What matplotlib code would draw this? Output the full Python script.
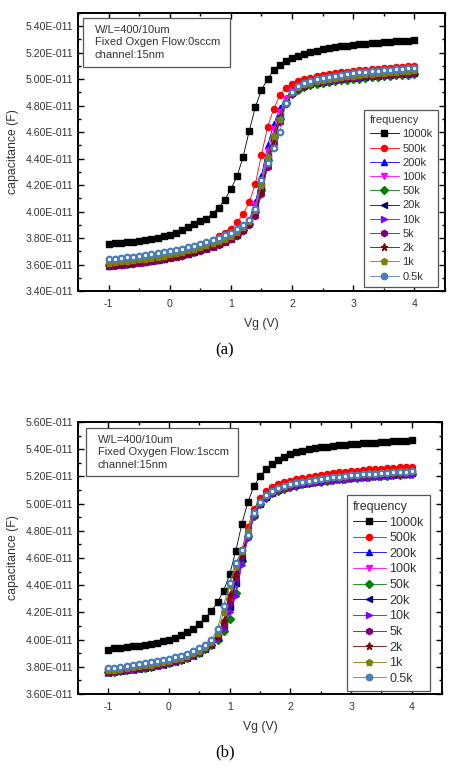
import numpy as np
import matplotlib
matplotlib.use("Agg")
import matplotlib.pyplot as plt
from matplotlib.ticker import MultipleLocator, FixedLocator, FuncFormatter
from matplotlib.patches import Rectangle

# ---------------- data (capacitance in units of 1e-11 F) ----------------
SCALE = 1e-11
vg = np.round(np.arange(-1.0, 4.0001, 0.1), 1)   # gate-voltage sweep, 0.1 V step

labels = ["1000k", "500k", "200k", "100k", "50k", "20k", "10k", "5k", "2k", "1k", "0.5k"]
x_ticks = [-1, 0, 1, 2, 3, 4]
y_ticks_a = [3.40, 3.60, 3.80, 4.00, 4.20, 4.40, 4.60, 4.80, 5.00, 5.20, 5.40]
y_ticks_b = [3.60, 3.80, 4.00, 4.20, 4.40, 4.60, 4.80, 5.00, 5.20, 5.40, 5.60]

# ----- panel (a): oxygen flow 0 sccm -----
a_1000k = [3.755, 3.760, 3.765, 3.768, 3.772, 3.778, 3.785, 3.792, 3.802, 3.813, 3.826,
           3.840, 3.858, 3.880, 3.903, 3.925, 3.947, 3.985, 4.030, 4.090, 4.170,
           4.265, 4.415, 4.610, 4.790, 4.920, 5.000, 5.070, 5.110, 5.140, 5.160,
           5.175, 5.190, 5.205, 5.215, 5.225, 5.233, 5.240, 5.247, 5.253, 5.258,
           5.263, 5.268, 5.272, 5.276, 5.280, 5.283, 5.286, 5.289, 5.292, 5.295]
a_500k = [3.600, 3.605, 3.610, 3.615, 3.620, 3.627, 3.634, 3.642, 3.650, 3.660, 3.670,
          3.682, 3.695, 3.710, 3.727, 3.745, 3.765, 3.788, 3.812, 3.840, 3.872,
          3.918, 3.980, 4.070, 4.210, 4.430, 4.640, 4.775, 4.880, 4.935, 4.965,
          4.985, 5.000, 5.012, 5.022, 5.030, 5.038, 5.045, 5.051, 5.057, 5.062,
          5.067, 5.071, 5.075, 5.079, 5.083, 5.087, 5.090, 5.093, 5.097, 5.100]
a_200k = [3.592, 3.596, 3.600, 3.605, 3.610, 3.616, 3.622, 3.629, 3.636, 3.644, 3.653,
          3.662, 3.672, 3.683, 3.695, 3.708, 3.722, 3.738, 3.756, 3.777, 3.802,
          3.833, 3.875, 3.935, 4.070, 4.270, 4.500, 4.660, 4.780, 4.860, 4.915,
          4.945, 4.962, 4.974, 4.984, 4.992, 4.999, 5.005, 5.011, 5.016, 5.021,
          5.025, 5.029, 5.033, 5.037, 5.040, 5.043, 5.046, 5.049, 5.052, 5.055]
a_100k = [3.596, 3.600, 3.604, 3.609, 3.614, 3.620, 3.626, 3.633, 3.640, 3.648, 3.657,
          3.666, 3.676, 3.687, 3.699, 3.712, 3.726, 3.742, 3.759, 3.779, 3.802,
          3.830, 3.868, 3.925, 4.050, 4.230, 4.460, 4.620, 4.750, 4.850, 4.910,
          4.942, 4.960, 4.972, 4.982, 4.990, 4.997, 5.004, 5.010, 5.015, 5.020,
          5.024, 5.028, 5.032, 5.036, 5.040, 5.043, 5.046, 5.050, 5.053, 5.057]
a_50k = [3.594, 3.598, 3.602, 3.607, 3.612, 3.618, 3.624, 3.631, 3.638, 3.646, 3.655,
         3.664, 3.674, 3.685, 3.697, 3.710, 3.724, 3.739, 3.756, 3.775, 3.797,
         3.823, 3.858, 3.905, 4.000, 4.160, 4.390, 4.560, 4.700, 4.820, 4.885,
         4.920, 4.940, 4.953, 4.963, 4.971, 4.978, 4.985, 4.991, 4.996, 5.001,
         5.005, 5.009, 5.013, 5.017, 5.021, 5.024, 5.028, 5.031, 5.035, 5.040]
a_20k = [3.590, 3.594, 3.598, 3.603, 3.608, 3.614, 3.620, 3.627, 3.634, 3.642, 3.651,
         3.660, 3.670, 3.681, 3.693, 3.706, 3.720, 3.735, 3.752, 3.771, 3.793,
         3.820, 3.857, 3.910, 4.020, 4.190, 4.420, 4.580, 4.720, 4.830, 4.895,
         4.930, 4.950, 4.963, 4.973, 4.981, 4.988, 4.995, 5.001, 5.006, 5.011,
         5.015, 5.019, 5.023, 5.027, 5.030, 5.033, 5.036, 5.039, 5.042, 5.045]
a_10k = [3.585, 3.589, 3.593, 3.598, 3.603, 3.609, 3.615, 3.622, 3.629, 3.637, 3.646,
         3.655, 3.665, 3.676, 3.688, 3.701, 3.715, 3.730, 3.747, 3.766, 3.788,
         3.815, 3.852, 3.900, 3.990, 4.150, 4.360, 4.540, 4.690, 4.820, 4.895,
         4.932, 4.952, 4.965, 4.975, 4.983, 4.990, 4.997, 5.003, 5.008, 5.013,
         5.017, 5.021, 5.025, 5.029, 5.032, 5.035, 5.038, 5.041, 5.044, 5.048]
a_5k = [3.588, 3.592, 3.596, 3.601, 3.606, 3.612, 3.618, 3.625, 3.632, 3.640, 3.649,
        3.658, 3.668, 3.679, 3.691, 3.704, 3.718, 3.733, 3.750, 3.769, 3.790,
        3.816, 3.850, 3.895, 3.970, 4.130, 4.340, 4.520, 4.680, 4.810, 4.890,
        4.928, 4.950, 4.964, 4.975, 4.984, 4.992, 4.999, 5.005, 5.010, 5.015,
        5.019, 5.023, 5.027, 5.031, 5.034, 5.037, 5.040, 5.043, 5.046, 5.050]
a_2k = [3.595, 3.599, 3.603, 3.608, 3.613, 3.619, 3.625, 3.632, 3.639, 3.647, 3.656,
        3.665, 3.675, 3.686, 3.698, 3.711, 3.725, 3.740, 3.757, 3.776, 3.798,
        3.824, 3.858, 3.905, 3.990, 4.150, 4.370, 4.540, 4.690, 4.820, 4.900,
        4.936, 4.956, 4.970, 4.980, 4.988, 4.996, 5.003, 5.009, 5.014, 5.019,
        5.023, 5.027, 5.031, 5.035, 5.039, 5.042, 5.045, 5.048, 5.051, 5.055]
a_1k = [3.615, 3.619, 3.623, 3.628, 3.633, 3.639, 3.645, 3.652, 3.659, 3.667, 3.676,
        3.685, 3.695, 3.706, 3.718, 3.731, 3.745, 3.760, 3.777, 3.796, 3.818,
        3.845, 3.880, 3.930, 4.010, 4.200, 4.410, 4.570, 4.700, 4.830, 4.905,
        4.940, 4.960, 4.974, 4.985, 4.994, 5.002, 5.009, 5.016, 5.022, 5.027,
        5.032, 5.037, 5.041, 5.045, 5.049, 5.053, 5.057, 5.060, 5.063, 5.066]
a_05k = [3.640, 3.644, 3.648, 3.653, 3.658, 3.664, 3.670, 3.677, 3.684, 3.692, 3.701,
         3.710, 3.720, 3.731, 3.743, 3.756, 3.770, 3.785, 3.802, 3.821, 3.840,
         3.865, 3.895, 3.940, 4.020, 4.240, 4.370, 4.480, 4.600, 4.820, 4.905,
         4.945, 4.968, 4.985, 4.998, 5.009, 5.019, 5.027, 5.034, 5.040, 5.046,
         5.051, 5.056, 5.060, 5.064, 5.068, 5.072, 5.076, 5.080, 5.084, 5.088]

# ----- panel (b): oxygen flow 1 sccm -----
b_1000k = [3.925, 3.935, 3.940, 3.945, 3.950, 3.955, 3.962, 3.970, 3.978, 3.988, 3.998,
           4.012, 4.032, 4.055, 4.080, 4.115, 4.160, 4.210, 4.275, 4.360, 4.480,
           4.650, 4.850, 5.010, 5.130, 5.200, 5.255, 5.290, 5.318, 5.342, 5.362,
           5.377, 5.390, 5.400, 5.408, 5.415, 5.420, 5.425, 5.429, 5.433, 5.437,
           5.440, 5.443, 5.446, 5.449, 5.452, 5.455, 5.457, 5.460, 5.463, 5.466]
b_500k = [3.782, 3.787, 3.792, 3.798, 3.804, 3.810, 3.817, 3.824, 3.832, 3.841, 3.852,
          3.863, 3.875, 3.889, 3.906, 3.927, 3.954, 3.985, 4.035, 4.130, 4.300,
          4.480, 4.660, 4.830, 4.960, 5.040, 5.090, 5.120, 5.142, 5.158, 5.170,
          5.181, 5.190, 5.198, 5.206, 5.213, 5.219, 5.225, 5.230, 5.235, 5.239,
          5.243, 5.247, 5.251, 5.254, 5.257, 5.260, 5.263, 5.266, 5.269, 5.272]
b_200k = [3.765, 3.770, 3.775, 3.781, 3.787, 3.793, 3.800, 3.807, 3.815, 3.824, 3.835,
          3.846, 3.858, 3.872, 3.889, 3.910, 3.937, 3.968, 4.020, 4.110, 4.250,
          4.420, 4.590, 4.770, 4.920, 5.005, 5.055, 5.085, 5.105, 5.120, 5.132,
          5.142, 5.151, 5.159, 5.166, 5.172, 5.178, 5.183, 5.188, 5.192, 5.196,
          5.200, 5.204, 5.207, 5.210, 5.213, 5.216, 5.219, 5.222, 5.225, 5.228]
b_100k = [3.762, 3.767, 3.772, 3.778, 3.784, 3.790, 3.797, 3.804, 3.812, 3.821, 3.832,
          3.843, 3.855, 3.869, 3.886, 3.907, 3.934, 3.965, 4.010, 4.090, 4.220,
          4.400, 4.570, 4.760, 4.910, 5.000, 5.050, 5.082, 5.102, 5.118, 5.130,
          5.140, 5.149, 5.157, 5.164, 5.170, 5.176, 5.181, 5.186, 5.190, 5.194,
          5.198, 5.202, 5.205, 5.208, 5.211, 5.214, 5.217, 5.220, 5.223, 5.226]
b_50k = [3.760, 3.765, 3.770, 3.776, 3.782, 3.788, 3.795, 3.802, 3.810, 3.819, 3.830,
         3.841, 3.853, 3.867, 3.884, 3.905, 3.930, 3.960, 3.995, 4.060, 4.150,
         4.340, 4.580, 4.760, 4.910, 4.995, 5.045, 5.075, 5.095, 5.110, 5.122,
         5.132, 5.141, 5.149, 5.156, 5.162, 5.168, 5.173, 5.178, 5.182, 5.186,
         5.190, 5.194, 5.197, 5.200, 5.203, 5.206, 5.209, 5.212, 5.215, 5.218]
b_20k = [3.758, 3.763, 3.768, 3.774, 3.780, 3.786, 3.793, 3.800, 3.808, 3.817, 3.828,
         3.839, 3.851, 3.865, 3.882, 3.903, 3.930, 3.962, 4.015, 4.100, 4.240,
         4.420, 4.600, 4.770, 4.920, 5.000, 5.050, 5.080, 5.100, 5.115, 5.127,
         5.137, 5.146, 5.154, 5.161, 5.167, 5.173, 5.178, 5.183, 5.187, 5.191,
         5.195, 5.199, 5.202, 5.205, 5.208, 5.211, 5.214, 5.217, 5.220, 5.223]
b_10k = [3.756, 3.761, 3.766, 3.772, 3.778, 3.784, 3.791, 3.798, 3.806, 3.815, 3.826,
         3.837, 3.849, 3.863, 3.880, 3.901, 3.928, 3.960, 4.005, 4.080, 4.200,
         4.320, 4.550, 4.740, 4.900, 4.990, 5.040, 5.070, 5.090, 5.105, 5.117,
         5.127, 5.136, 5.144, 5.151, 5.157, 5.163, 5.168, 5.173, 5.177, 5.181,
         5.185, 5.189, 5.192, 5.195, 5.198, 5.201, 5.204, 5.207, 5.210, 5.213]
b_5k = [3.764, 3.769, 3.774, 3.780, 3.786, 3.792, 3.799, 3.806, 3.814, 3.823, 3.834,
        3.845, 3.857, 3.871, 3.888, 3.909, 3.936, 3.968, 4.020, 4.110, 4.270,
        4.450, 4.620, 4.780, 4.930, 5.005, 5.055, 5.085, 5.105, 5.121, 5.133,
        5.143, 5.152, 5.160, 5.167, 5.173, 5.179, 5.184, 5.189, 5.193, 5.197,
        5.201, 5.205, 5.208, 5.211, 5.214, 5.217, 5.220, 5.223, 5.226, 5.229]
b_2k = [3.767, 3.772, 3.777, 3.783, 3.789, 3.795, 3.802, 3.809, 3.817, 3.826, 3.837,
        3.848, 3.860, 3.874, 3.891, 3.912, 3.939, 3.972, 4.030, 4.140, 4.330,
        4.480, 4.630, 4.790, 4.930, 5.010, 5.060, 5.090, 5.110, 5.125, 5.137,
        5.147, 5.156, 5.164, 5.171, 5.177, 5.183, 5.188, 5.193, 5.197, 5.201,
        5.205, 5.209, 5.212, 5.215, 5.218, 5.221, 5.224, 5.227, 5.230, 5.233]
b_1k = [3.775, 3.780, 3.785, 3.791, 3.797, 3.803, 3.810, 3.817, 3.825, 3.834, 3.845,
        3.856, 3.868, 3.882, 3.899, 3.920, 3.947, 3.982, 4.050, 4.200, 4.400,
        4.540, 4.650, 4.800, 4.940, 5.015, 5.065, 5.095, 5.116, 5.132, 5.145,
        5.156, 5.165, 5.173, 5.180, 5.186, 5.192, 5.197, 5.202, 5.206, 5.210,
        5.214, 5.218, 5.222, 5.225, 5.228, 5.231, 5.234, 5.237, 5.240, 5.243]
b_05k = [3.790, 3.795, 3.800, 3.806, 3.812, 3.818, 3.825, 3.832, 3.840, 3.849, 3.860,
         3.871, 3.883, 3.897, 3.914, 3.935, 3.962, 4.000, 4.080, 4.250, 4.420,
         4.560, 4.660, 4.770, 4.930, 5.010, 5.060, 5.092, 5.113, 5.129, 5.142,
         5.153, 5.162, 5.170, 5.177, 5.183, 5.189, 5.194, 5.199, 5.203, 5.207,
         5.211, 5.215, 5.218, 5.221, 5.224, 5.227, 5.230, 5.233, 5.236, 5.240]

series_a = [a_1000k, a_500k, a_200k, a_100k, a_50k, a_20k, a_10k, a_5k, a_2k, a_1k, a_05k]
series_b = [b_1000k, b_500k, b_200k, b_100k, b_50k, b_20k, b_10k, b_5k, b_2k, b_1k, b_05k]

# ---------------- styles ----------------
colors = ["#000000", "#ff0000", "#0000ff", "#ff00ff", "#008000", "#000080",
          "#8000ff", "#800080", "#800000", "#808000", "#4a7ebb"]
markers = ["s", "o", "^", "v", "D", "<", ">", "h", "*", "p", "o"]
msizes = [4.2, 4.4, 4.6, 4.6, 3.6, 4.4, 4.4, 4.6, 5.2, 4.8, 4.6]

plt.rcParams["font.family"] = ["Liberation Sans", "DejaVu Sans"]
TXT = "#333333"

fig = plt.figure(figsize=(4.5, 7.69), dpi=100)
ax_a = fig.add_axes([0.1733, 0.6216, 0.8156, 0.3615])
ax_b = fig.add_axes([0.1733, 0.0975, 0.8090, 0.3537])


def draw(ax, data, ylim, yticks, box_lines, box_rect, leg_anchor, leg_fs, leg_spacing,
         hlen, caption, cap_y):
    handles = []
    for i, (vals, c, m, ms, lab) in enumerate(zip(data, colors, markers, msizes, labels)):
        y = np.array(vals) * SCALE
        h, = ax.plot(vg, y, color=c, lw=0.6, marker=m, ms=ms, mec=c, mfc=c,
                     label=lab, zorder=2 + i * 0.1, clip_on=False)
        if lab == "0.5k":
            ax.plot(vg, y, ls="none", marker="o", ms=1.3, mfc="white", mec="white",
                    zorder=2 + i * 0.1 + 0.05)
        handles.append(h)

    ax.set_xlim(-1.5, 4.5)
    ax.set_ylim(ylim[0] * SCALE, ylim[1] * SCALE)
    ax.xaxis.set_major_locator(FixedLocator(x_ticks))
    ax.xaxis.set_minor_locator(MultipleLocator(0.5))
    ax.yaxis.set_major_locator(FixedLocator([t * SCALE for t in yticks]))
    ax.yaxis.set_minor_locator(MultipleLocator(0.1 * SCALE))
    ax.yaxis.set_major_formatter(FuncFormatter(lambda v, p: f"{v / SCALE:.2f}E-011"))
    ax.xaxis.set_major_formatter(FuncFormatter(lambda v, p: f"{v:g}"))
    ax.tick_params(which="both", direction="in", top=True, right=True,
                   labelsize=7.6, labelcolor=TXT, width=1.0)
    ax.tick_params(which="major", length=4.5)
    ax.tick_params(which="minor", length=2.5)
    ax.tick_params(axis="x", pad=6)
    for s in ax.spines.values():
        s.set_linewidth(1.4)

    ax.set_xlabel("Vg (V)", fontsize=8.8, color=TXT, labelpad=6)
    ax.set_ylabel("capacitance (F)", fontsize=8.8, color=TXT, labelpad=5)

    # info box
    x0, y0, x1, y1 = box_rect
    ax.add_patch(Rectangle((x0, y0), x1 - x0, y1 - y0, transform=ax.transAxes,
                           fill=True, fc="white", ec="#555555", lw=0.9, zorder=5))
    ax.text(x0 + 0.032, (y0 + y1) / 2, "\n".join(box_lines), transform=ax.transAxes,
            fontsize=8, color=TXT, va="center", ha="left", linespacing=1.3, zorder=6)

    leg = ax.legend(handles=handles, title="frequency", loc="lower right",
                    bbox_to_anchor=leg_anchor, fontsize=leg_fs, title_fontsize=leg_fs,
                    fancybox=False, edgecolor="#555555", framealpha=1,
                    handlelength=hlen, handletextpad=0.3, labelspacing=leg_spacing,
                    borderpad=0.5, borderaxespad=0, alignment="left")
    leg.get_frame().set_linewidth(0.9)
    for t in leg.get_texts():
        t.set_color(TXT)
    leg.get_title().set_color(TXT)
    leg.set_zorder(10)

    fig.text(0.5, cap_y, caption, ha="center", va="center", fontsize=12,
             family=["Liberation Serif", "DejaVu Serif"])


draw(ax_a, series_a, (3.40, 5.50), y_ticks_a,
     ["W/L=400/10um", "Fixed Oxgen Flow:0sccm", "channel:15nm"],
     (0.014, 0.806, 0.414, 0.982), (0.981, 0.014), 8.0, 0.38, 2.6, "(a)", 1 - 350 / 769)
draw(ax_b, series_b, (3.60, 5.60), y_ticks_b,
     ["W/L=400/10um", "Fixed Oxygen Flow:1sccm", "channel:15nm"],
     (0.022, 0.801, 0.440, 0.977), (0.967, 0.011), 9.0, 0.29, 2.6, "(b)", 1 - 752 / 769)

fig.savefig("out.png", dpi=100)
